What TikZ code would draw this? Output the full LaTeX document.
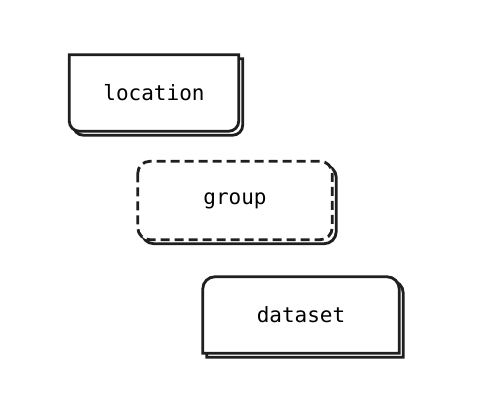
\documentclass[tikz,border=0pt]{standalone}
\usepackage{fontspec}
\setmonofont{DejaVu Sans Mono}
\usetikzlibrary{backgrounds}
\tikzset{%
	box/.style     = {rectangle, inner sep=0pt, font=\ttfamily\fontsize{21}{25}\selectfont},
	edge/.style    = {draw=black!88, line width=2.8pt, fill=white},
	shadow/.style  = {edge, transform canvas={xshift=4pt, yshift=-4pt}}
}

\begin{document}
\begin{tikzpicture}[x=1pt,y=-1pt]
			\useasboundingbox (0,0) rectangle (477,416);
			\node[box, minimum width=169pt, minimum height=76pt] (location) at (154,93) {location};
			\node[box, minimum width=194pt, minimum height=78pt] (group) at (235,200.5) {group};
			\node[box, minimum width=196pt, minimum height=76pt] (dataset) at (301,315) {dataset};
			
			\begin{scope}[on background layer]
			% location: square top, round bottom
			\path[shadow] (location.north west) -- (location.north east) -- ([yshift=10]location.south east) arc (0:90:10) -- ([xshift=10]location.south west) arc (90:180:10) -- cycle;
			\path[edge] (location.north west) -- (location.north east) -- ([yshift=10]location.south east) arc (0:90:10) -- ([xshift=10]location.south west) arc (90:180:10) -- cycle;
			
			% group: dashed, all round
			\path[shadow, rounded corners=12pt] (group.north west) rectangle (group.south east);
			\path[edge, dash pattern=on 9pt off 5pt, rounded corners=12pt] (group.north west) rectangle (group.south east);
			
			% dataset: round top, square bottom
			\path[shadow] (dataset.south west) -- ([yshift=-12]dataset.north west) arc (180:270:12) -- ([xshift=-12]dataset.north east) arc (270:360:12) -- (dataset.south east) -- cycle;
			\path[edge] (dataset.south west) -- ([yshift=-12]dataset.north west) arc (180:270:12) -- ([xshift=-12]dataset.north east) arc (270:360:12) -- (dataset.south east) -- cycle;
			\end{scope}
		\end{tikzpicture}
\end{document}
